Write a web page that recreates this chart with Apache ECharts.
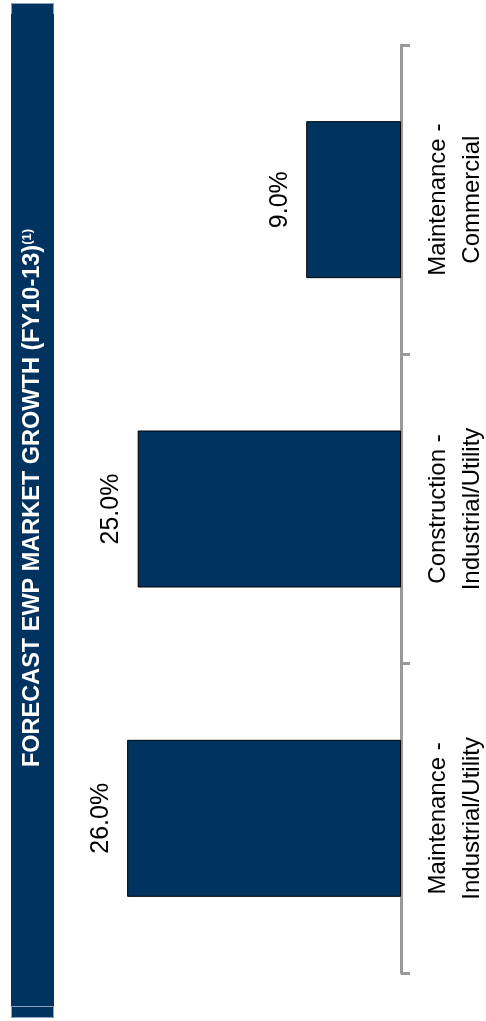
<!DOCTYPE html>
<html>
<head>
<meta charset="utf-8">
<script src="https://cdn.jsdelivr.net/npm/echarts@6/dist/echarts.min.js"></script>
<style>
  html, body { margin: 0; padding: 0; background: #fff; }
  #chart { width: 486px; height: 1021px; }
</style>
</head>
<body>
<div id="chart"></div>
<script>
// segments, bottom to top in the picture
const categories = ['Maintenance -\nIndustrial/Utility', 'Construction -\nIndustrial/Utility', 'Maintenance -\nCommercial'];
const growth = [26.0, 25.0, 9.0];
const titleText = 'FORECAST EWP MARKET GROWTH (FY10-13)';
const titleNote = '(1)';

const navy = '#00335f';
const myChart = echarts.init(document.getElementById('chart'));

const option = {
    animation: false,
    textStyle: { fontFamily: 'Liberation Sans, Arial, sans-serif' },
    grid: { left: 85, right: 85, top: 45, bottom: 48, outerBoundsMode: 'none' },
    xAxis: {
        type: 'value',
        inverse: true,
        min: 0,
        max: 30,
        show: false
    },
    yAxis: {
        type: 'category',
        position: 'right',
        data: categories,
        axisLine: { lineStyle: { color: '#999', width: 3 } },
        axisTick: { show: true, length: 9, lineStyle: { color: '#999', width: 3 } },
        axisLabel: {
            rotate: 90,
            margin: 20,
            fontSize: 24,
            lineHeight: 34,
            color: '#000'
        }
    },
    graphic: [
        {
            type: 'rect',
            shape: { x: 11, y: 3, width: 43, height: 1015 },
            style: { fill: navy }
        },
        {
            type: 'polyline',
            shape: { points: [[11.5, 14], [11.5, 3.5], [53.5, 3.5], [53.5, 14]] },
            style: { stroke: '#8fa3bb', lineWidth: 1, fill: null }
        },
        {
            type: 'rect',
            shape: { x: 11.5, y: 1006.5, width: 42, height: 11 },
            style: { stroke: '#8fa3bb', lineWidth: 1, fill: null }
        },
        {
            type: 'text',
            x: 33,
            y: 498,
            rotation: Math.PI / 2,
            style: {
                text: '{a|' + titleText + '}{s|' + titleNote + '}',
                align: 'center',
                verticalAlign: 'middle',
                fill: '#fff',
                rich: {
                    a: { fontSize: 23.5, fontWeight: 'bold', fill: '#fff', fontFamily: 'Liberation Sans' },
                    s: { fontSize: 13, fontWeight: 'bold', fill: '#fff', verticalAlign: 'top', fontFamily: 'Liberation Sans' }
                }
            }
        }
    ],
    series: [
        {
            type: 'bar',
            data: growth,
            barWidth: 157,
            itemStyle: { color: navy, borderColor: '#000', borderWidth: 1 },
            label: {
                show: true,
                position: 'left',
                distance: 14,
                rotate: 90,
                align: 'center',
                verticalAlign: 'bottom',
                fontSize: 25,
                color: '#000',
                formatter: function (p) { return p.value.toFixed(1) + '%'; }
            }
        }
    ]
};

myChart.setOption(option);
</script>
</body>
</html>
